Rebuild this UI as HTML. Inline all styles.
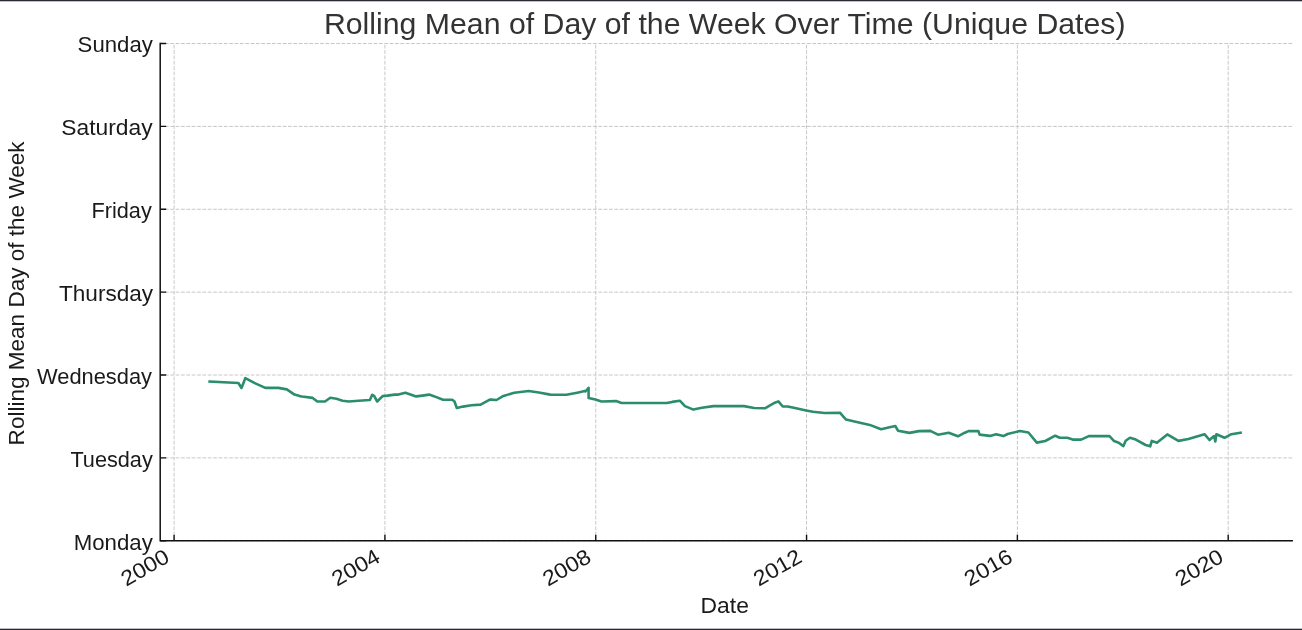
<!DOCTYPE html>
<html><head><meta charset="utf-8"><style>
html,body{margin:0;padding:0;background:#fff;width:1302px;height:630px;overflow:hidden}
svg{display:block;will-change:transform}
text{font-family:"Liberation Sans", sans-serif}
</style></head><body>
<svg width="1302" height="630" viewBox="0 0 1302 630">
<rect width="1302" height="630" fill="#fff"/>
<rect x="0" y="0" width="1302" height="1.3" fill="#2b2b33"/>
<rect x="0" y="628.7" width="1302" height="1.3" fill="#2b2b33"/>
<path d="M174.10 540.80V43.52 M384.92 540.80V43.52 M595.74 540.80V43.52 M806.56 540.80V43.52 M1017.38 540.80V43.52 M1228.20 540.80V43.52" stroke="#c8c8c8" stroke-width="1.0" stroke-dasharray="3.8 1.55" fill="none"/>
<path d="M160.20 540.80H1292.20 M160.20 457.92H1292.20 M160.20 375.04H1292.20 M160.20 292.16H1292.20 M160.20 209.28H1292.20 M160.20 126.40H1292.20 M160.20 43.52H1292.20" stroke="#c8c8c8" stroke-width="1.0" stroke-dasharray="3.8 1.55" stroke-dashoffset="0.6" fill="none"/>
<path d="M209.6 381.5 L238.4 383.0 L241.5 388.0 L245.3 378.2 L255.3 383.4 L265.3 387.9 L278.3 387.9 L286.8 389.4 L294.5 394.6 L299.8 396.1 L301.9 396.5 L312.7 397.9 L317.3 401.5 L325.0 401.5 L330.3 397.8 L336.5 398.8 L342.6 400.7 L348.8 401.5 L358.7 400.7 L369.9 400.0 L372.2 394.8 L374.1 395.9 L377.2 401.5 L382.6 396.1 L387.2 395.6 L394.8 394.6 L398.4 394.6 L405.4 392.8 L416.1 396.4 L422.3 395.6 L429.2 394.6 L434.5 396.4 L443.0 399.7 L452.2 399.7 L454.5 401.5 L456.8 408.0 L463.0 406.6 L471.4 405.3 L480.6 404.6 L489.8 399.6 L491.1 399.6 L496.5 400.0 L503.4 395.9 L514.2 392.8 L528.8 391.0 L538.8 392.5 L550.3 394.6 L566.4 394.8 L577.2 392.7 L584.8 391.1 L585.4 391.5 L588.6 387.8 L588.6 398.0 L595.4 399.6 L601.5 401.5 L616.1 401.1 L621.5 403.0 L666.8 403.0 L672.2 401.9 L679.8 400.7 L685.0 406.1 L693.4 409.6 L701.9 407.8 L713.4 406.1 L744.1 406.1 L754.1 408.0 L764.9 408.3 L774.8 402.7 L778.4 401.4 L782.7 406.5 L787.7 406.5 L796.1 408.3 L806.1 410.4 L813.0 411.7 L824.5 413.0 L839.9 412.7 L846.0 419.6 L854.5 421.5 L869.8 424.9 L881.1 429.2 L889.6 427.3 L895.3 426.0 L898.0 430.7 L909.5 432.9 L918.8 431.1 L930.3 430.9 L938.0 434.7 L948.7 432.7 L957.9 436.3 L964.8 432.7 L968.4 431.1 L978.4 431.1 L979.6 434.6 L990.0 435.9 L996.1 434.2 L1003.4 436.1 L1007.6 434.0 L1019.9 431.0 L1028.4 432.5 L1036.8 442.6 L1045.3 441.0 L1055.2 435.7 L1059.8 437.7 L1067.3 437.8 L1072.7 439.6 L1081.1 439.6 L1088.8 436.1 L1109.5 436.1 L1114.1 441.1 L1118.7 442.7 L1123.4 446.1 L1125.7 440.7 L1129.9 437.7 L1134.9 439.2 L1145.6 445.0 L1150.2 446.3 L1151.8 440.9 L1154.8 441.9 L1156.9 442.7 L1167.3 434.4 L1178.4 440.9 L1188.4 439.0 L1204.5 434.2 L1209.5 440.0 L1214.1 436.1 L1215.3 441.5 L1216.4 434.2 L1224.5 437.8 L1231.4 434.2 L1240.6 432.7" stroke="#2c8d6e" stroke-width="2.6" fill="none" stroke-linejoin="round" stroke-linecap="square"/>
<path d="M160.20 43.52V540.80H1292.20" stroke="#111" stroke-width="1.5" fill="none" stroke-linecap="square"/>
<path d="M160.20 540.80h6.0 M160.20 457.92h6.0 M160.20 375.04h6.0 M160.20 292.16h6.0 M160.20 209.28h6.0 M160.20 126.40h6.0 M160.20 43.52h6.0 M174.10 540.80v-6.0 M384.92 540.80v-6.0 M595.74 540.80v-6.0 M806.56 540.80v-6.0 M1017.38 540.80v-6.0 M1228.20 540.80v-6.0" stroke="#111" stroke-width="1.4" fill="none"/>
<g font-family='"Liberation Sans", sans-serif'>
<text x="323.90" y="33.90" font-size="29.0" fill="#333333" text-anchor="start" textLength="801.64" lengthAdjust="spacingAndGlyphs">Rolling Mean of Day of the Week Over Time (Unique Dates)</text>
<text x="73.70" y="549.50" font-size="21.5" fill="#1a1a1a" text-anchor="start" textLength="79.12" lengthAdjust="spacingAndGlyphs">Monday</text>
<text x="70.40" y="466.62" font-size="21.5" fill="#1a1a1a" text-anchor="start" textLength="82.37" lengthAdjust="spacingAndGlyphs">Tuesday</text>
<text x="37.00" y="383.74" font-size="21.5" fill="#1a1a1a" text-anchor="start" textLength="115.03" lengthAdjust="spacingAndGlyphs">Wednesday</text>
<text x="59.00" y="300.86" font-size="21.5" fill="#1a1a1a" text-anchor="start" textLength="94.15" lengthAdjust="spacingAndGlyphs">Thursday</text>
<text x="91.50" y="217.98" font-size="21.5" fill="#1a1a1a" text-anchor="start" textLength="60.24" lengthAdjust="spacingAndGlyphs">Friday</text>
<text x="61.30" y="135.10" font-size="21.5" fill="#1a1a1a" text-anchor="start" textLength="91.39" lengthAdjust="spacingAndGlyphs">Saturday</text>
<text x="77.60" y="52.22" font-size="21.5" fill="#1a1a1a" text-anchor="start" textLength="75.21" lengthAdjust="spacingAndGlyphs">Sunday</text>
<text x="700.60" y="612.80" font-size="21.5" fill="#1a1a1a" text-anchor="start" textLength="48.36" lengthAdjust="spacingAndGlyphs">Date</text>
<text transform="translate(24.1 445.40) rotate(-90)" x="0" y="0" font-size="21.5" fill="#1a1a1a" textLength="304.01" lengthAdjust="spacingAndGlyphs">Rolling Mean Day of the Week</text>
<text transform="translate(126.30 586.70) rotate(-30)" x="0" y="0" font-size="21.5" fill="#1a1a1a" textLength="51.50" lengthAdjust="spacingAndGlyphs">2000</text>
<text transform="translate(337.12 586.70) rotate(-30)" x="0" y="0" font-size="21.5" fill="#1a1a1a" textLength="51.50" lengthAdjust="spacingAndGlyphs">2004</text>
<text transform="translate(547.94 586.70) rotate(-30)" x="0" y="0" font-size="21.5" fill="#1a1a1a" textLength="51.50" lengthAdjust="spacingAndGlyphs">2008</text>
<text transform="translate(758.76 586.70) rotate(-30)" x="0" y="0" font-size="21.5" fill="#1a1a1a" textLength="51.50" lengthAdjust="spacingAndGlyphs">2012</text>
<text transform="translate(969.58 586.70) rotate(-30)" x="0" y="0" font-size="21.5" fill="#1a1a1a" textLength="51.50" lengthAdjust="spacingAndGlyphs">2016</text>
<text transform="translate(1180.40 586.70) rotate(-30)" x="0" y="0" font-size="21.5" fill="#1a1a1a" textLength="51.50" lengthAdjust="spacingAndGlyphs">2020</text>
</g>
</svg>
</body></html>
